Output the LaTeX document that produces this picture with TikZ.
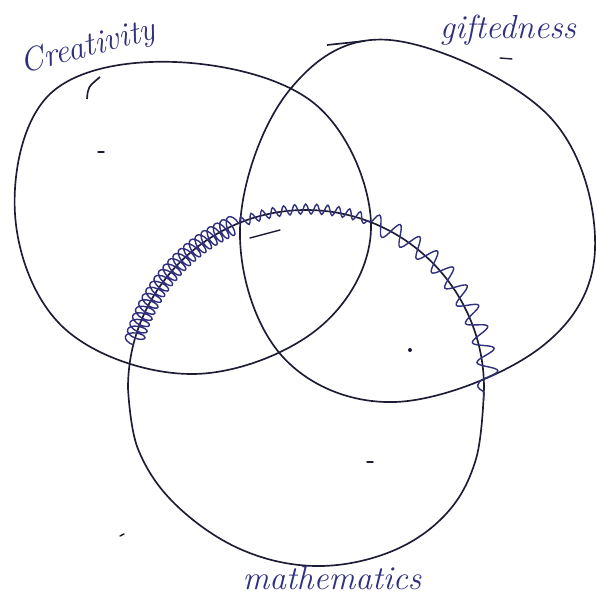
\documentclass[tikz,border=0pt]{standalone}
\usepackage{tikz}
\usetikzlibrary{decorations.pathmorphing}
\definecolor{penBlue}{RGB}{48, 48, 125}
\definecolor{penDark}{RGB}{28, 28, 52}

\begin{document}
\begin{tikzpicture}[x=0.02cm, y=0.02cm,
  ring/.style={draw=penDark, line width=0.95pt, line join=round},
  tag/.style={font=\fontsize{19}{22}\selectfont\itshape, text=penBlue, inner sep=0pt},
  coilwave/.style={draw=penBlue, line width=0.8pt, decorate,
                   decoration={coil, aspect=0.45, amplitude=5.5pt, segment length=4pt}},
  snakewave/.style={draw=penBlue, line width=0.8pt, decorate,
                    decoration={snake, amplitude=#1, segment length=2.2*#1}},
  speck/.style={draw=penDark, line width=0.8pt, line cap=round},
]
  \useasboundingbox (0,0) rectangle (596,599);

  \draw[ring] plot[smooth cycle, tension=0.62] coordinates {
    (175,537) (315,495) (371,375) (320,272) (193,225) (65,270)
    (15,385) (50,505)};
  \draw[ring] (87,500) .. controls (88,512) .. (100,522);

  \draw[ring] plot[smooth cycle, tension=0.62] coordinates {
    (390,559) (548,484) (595,350) (540,251) (395,197) (282,243)
    (240,370) (288,507)};
  \draw[ring] (327,554) -- (365,558);

  \draw[ring] (128,211) arc[start angle=180, end angle=0, radius=178];
  \draw[ring] plot[smooth, tension=0.62] coordinates {
    (484,211) (476,140) (446,85) (390,47) (315,33) (240,50) (175,95)
    (138,150) (128,211)};

  \draw[coilwave] (133.3,254.1) arc[start angle=166, end angle=112, radius=178];
  \draw[snakewave=2.8pt] (239.3,376.0) arc[start angle=112, end angle=69, radius=178];
  \draw[snakewave=5.6pt] (369.8,377.2) arc[start angle=69, end angle=-4, radius=178];
  \draw[speck] (250,361) -- (280,369);

  \fill[penDark] (410,249) circle (2);
  \draw[speck] (500,541) -- (512,540);
  \draw[speck] (98,447) -- (104,447);
  \draw[speck] (367,137) -- (373,137);
  \draw[speck] (120,63) -- (124,65);

  \node[tag, rotate=15] (crea) at (88,551) {Creativity};
  \node[tag] (gift) at (508,569) {giftedness};
  \node[tag] (math) at (332,21) {mathematics};
\end{tikzpicture}
\end{document}
